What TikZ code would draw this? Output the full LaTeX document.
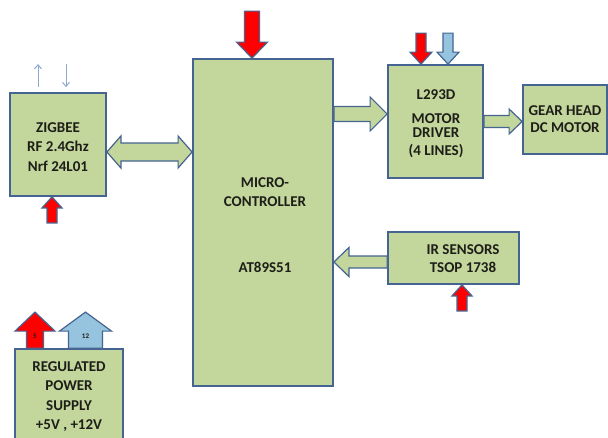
\documentclass[tikz,border=0pt]{standalone}
\usepackage{fontspec}
\setmainfont{Carlito}
\usetikzlibrary{calc,arrows.meta}
\definecolor{boxfill}{RGB}{195,214,155}
\definecolor{edge}{RGB}{70,100,145}
\definecolor{redarr}{RGB}{255,0,0}
\definecolor{bluearr}{RGB}{150,195,222}
\definecolor{thinblue}{RGB}{140,170,210}
\definecolor{txt}{RGB}{30,30,25}
\tikzset{
 blk/.style={draw=edge, line width=1.8pt, fill=boxfill, inner sep=0pt},
 lbl/.style={font=\bfseries\fontsize{15}{19.5}\selectfont, align=center, text=txt, inner sep=0pt},
 barr/.style={draw=edge, line width=1.2pt, fill=boxfill, line join=miter},
 thinarr/.style={draw=thinblue, line width=1pt, -{Straight Barb[length=4pt,width=7pt]}},
 small/.style={font=\bfseries\fontsize{7}{8}\selectfont, text=txt, inner sep=0pt},
}
\newcommand\blockarrow[6][]{%
 \coordinate (bah) at ($(#3)!#6!(#2)$);
 \draw[barr,#1] ($(#2)!#4!90:(#3)$) -- ($(bah)!#4!90:(#3)$) -- ($(bah)!#5!90:(#3)$) -- (#3) -- ($(bah)!#5!-90:(#3)$) -- ($(bah)!#4!-90:(#3)$) -- ($(#2)!#4!-90:(#3)$) -- cycle;}
\newcommand\dblarrow[6][]{%
 \coordinate (bah) at ($(#3)!#6!(#2)$);
 \coordinate (bat) at ($(#2)!#6!(#3)$);
 \draw[barr,#1] (#2) -- ($(bat)!#5!90:(#3)$) -- ($(bat)!#4!90:(#3)$) -- ($(bah)!#4!90:(#3)$) -- ($(bah)!#5!90:(#3)$) -- (#3) -- ($(bah)!#5!-90:(#3)$) -- ($(bah)!#4!-90:(#3)$) -- ($(bat)!#4!-90:(#3)$) -- ($(bat)!#5!-90:(#3)$) -- cycle;}
\begin{document}
\begin{tikzpicture}[x=1pt,y=-1pt]
\clip (0,0) rectangle (608,437);
\fill[white] (0,0) rectangle (608,437);
% boxes
\node[blk, minimum width=96pt, minimum height=103pt] (zig) at (58,144.5) {};
\node[blk, minimum width=140pt, minimum height=327pt] (mcu) at (263,222.5) {};
\node[blk, minimum width=95pt, minimum height=113pt] (drv) at (435.5,121.5) {};
\node[blk, minimum width=84pt, minimum height=69pt] (gear) at (565,119.5) {};
\node[blk, minimum width=131pt, minimum height=52pt] (ir) at (453.5,258) {};
\node[blk, minimum width=108pt, minimum height=96pt] (psu) at (69,397) {};
% texts
\node[lbl] (tzig) at (58,147) {ZIGBEE\\RF 2.4Ghz\\Nrf 24L01};
\node[lbl] (tmcu) at (265,192) {MICRO-\\CONTROLLER};
\node[lbl] (tmcu2) at (265,267) {AT89S51};
\node[lbl] (tdrv1) at (436,95) {L293D};
\node[lbl, font=\bfseries\fontsize{15}{14}\selectfont] (tdrv2) at (436,126) {MOTOR\\DRIVER};
\node[lbl] (tdrv3) at (436,151) {(4 LINES)};
\node[lbl, font=\bfseries\fontsize{15}{17}\selectfont] (tgear) at (565,119.5) {GEAR HEAD\\DC MOTOR};
\node[lbl, font=\bfseries\fontsize{15}{18}\selectfont] (tir) at (463,259) {IR SENSORS\\TSOP 1738};
\node[lbl] (tpsu) at (69,396.5) {REGULATED\\POWER\\SUPPLY\\+5V , +12V};
% block arrows
\coordinate (a1s) at ([xshift=-11pt,yshift=47pt]mcu.north);
\coordinate (a1e) at ([xshift=-11pt]mcu.north);
\blockarrow[fill=redarr]{a1s}{a1e}{7.5pt}{15.5pt}{16pt}
\coordinate (a2s) at ([yshift=-7.5pt]zig.east);
\coordinate (a2e) at (a2s -| mcu.west);
\dblarrow{a2s}{a2e}{9pt}{16pt}{14pt}
\coordinate (a3e) at ([yshift=7.5pt]drv.west);
\coordinate (a3s) at (a3e -| mcu.east);
\blockarrow{a3s}{a3e}{7.5pt}{17pt}{17pt}
\coordinate (a4s) at (drv.east);
\coordinate (a4e) at (a4s -| gear.west);
\blockarrow{a4s}{a4e}{6pt}{12.5pt}{13pt}
\coordinate (a5s) at ([yshift=-4pt]ir.west);
\coordinate (a5e) at (a5s -| mcu.east);
\blockarrow{a5s}{a5e}{6pt}{14.5pt}{15pt}
\coordinate (a6e) at ([xshift=8.5pt]ir.south);
\coordinate (a6s) at ([xshift=8.5pt,yshift=-26pt]ir.south);
\blockarrow[fill=redarr]{a6s}{a6e}{5pt}{10pt}{11pt}
\coordinate (a7e) at ([xshift=-6pt]zig.south);
\coordinate (a7s) at ([xshift=-6pt,yshift=-26pt]zig.south);
\blockarrow[fill=redarr]{a7s}{a7e}{5pt}{10pt}{11pt}
\coordinate (a8s) at ([xshift=-14.5pt,yshift=31pt]drv.north);
\coordinate (a8e) at ([xshift=-14.5pt]drv.north);
\blockarrow[fill=redarr]{a8s}{a8e}{5pt}{11pt}{12pt}
\coordinate (a9s) at ([xshift=12.5pt,yshift=31pt]drv.north);
\coordinate (a9e) at ([xshift=12.5pt]drv.north);
\blockarrow[fill=bluearr]{a9s}{a9e}{5pt}{11pt}{12pt}
\coordinate (p1s) at ([xshift=-34pt]psu.north);
\coordinate (p1e) at ([xshift=-34pt,yshift=36pt]psu.north);
\blockarrow[fill=redarr]{p1s}{p1e}{8.5pt}{20pt}{19pt}
\coordinate (p2s) at ([xshift=16.5pt]psu.north);
\coordinate (p2e) at ([xshift=16.5pt,yshift=36pt]psu.north);
\blockarrow[fill=bluearr]{p2s}{p2e}{17pt}{26pt}{19pt}
\node[small] (l5) at ([yshift=12pt]p1s) {5};
\node[small] (l12) at ([yshift=12pt]p2s) {12};
% thin antenna arrows
\coordinate (t1s) at ([xshift=-20pt,yshift=5pt]zig.north);
\coordinate (t1e) at ([xshift=-20pt,yshift=28pt]zig.north);
\draw[thinarr] (t1s) -- (t1e);
\coordinate (t2s) at ([xshift=8pt,yshift=28pt]zig.north);
\coordinate (t2e) at ([xshift=8pt,yshift=5pt]zig.north);
\draw[thinarr] (t2s) -- (t2e);
\end{tikzpicture}
\end{document}
